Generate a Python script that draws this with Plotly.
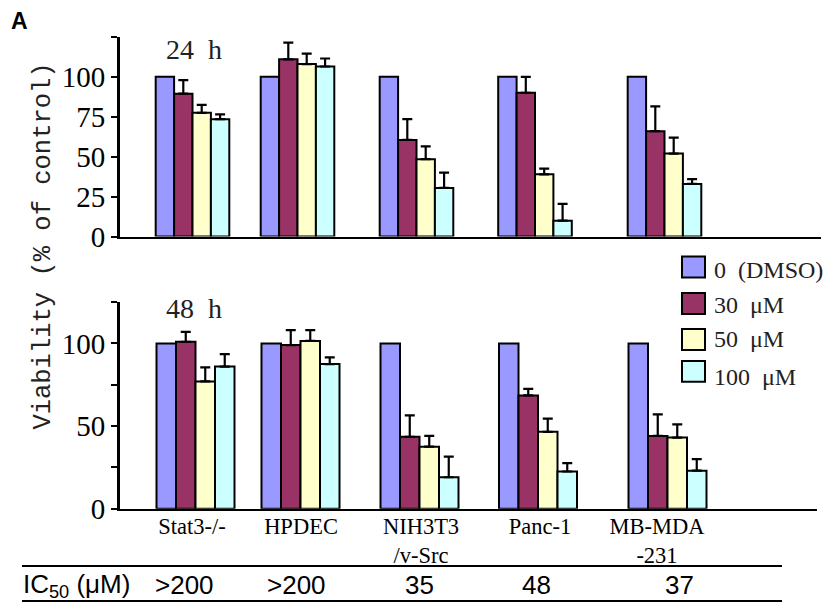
import plotly.graph_objects as go

# ---------------- data ----------------
cell_labels = ["Stat3-/-", "HPDEC", "NIH3T3<br>/v-Src", "Panc-1", "MB-MDA<br>-231"]
series_names = ["0  (DMSO)", "30  μM", "50  μM", "100  μM"]
time_labels = ["24  h", "48  h"]
ic50_values = [">200", ">200", "35", "48", "37"]
y_ticks_24 = [0, 25, 50, 75, 100]
y_minor_24 = [125]
y_ticks_48 = [0, 50, 100]
y_minor_48 = [25, 75, 125]

# 24 h viability (% of control)
v24_dmso = [100, 100, 100, 100, 100]
v24_30 = [89.5, 111, 60.5, 90, 66]
v24_50 = [77.5, 108, 48.5, 39, 52]
v24_100 = [73.5, 106.5, 30.5, 10, 33]
e24_dmso = [0, 0, 0, 0, 0]
e24_30 = [8.5, 10.5, 13, 10, 15.5]
e24_50 = [5, 6.5, 8, 3.5, 10]
e24_100 = [3, 5, 9.5, 10.5, 3]

# 48 h viability (% of control)
v48_dmso = [100, 100, 100, 100, 100]
v48_30 = [101, 99, 43.5, 68.5, 44]
v48_50 = [77, 101.5, 37.5, 46.5, 43]
v48_100 = [86, 87.5, 19, 22.5, 23]
e48_dmso = [0, 0, 0, 0, 0]
e48_30 = [6, 9, 13, 4, 13]
e48_50 = [8.5, 6.5, 6.5, 8, 8]
e48_100 = [7.5, 4, 12.5, 5, 7]

# ---------------- layout constants ----------------
W, H = 831, 608          # target picture size (positions below are planned in this frame)
LAYOUT_H = 623           # page height used by the viewer (picture is fitted to 608)
colors = ["#9999FF", "#993366", "#FFFFCC", "#CCFFFF"]
group_pos = [72.5, 177.5, 296.5, 415, 544.5]      # group centres (x-axis units)
label_pos = [69, 178, 298, 417, 534]             # tick-label centres on bottom axis
ic50_px = [184.5, 296.5, 419, 536, 679]

def px(x):
    return x / W

def py(y):
    return 1 - y / H

fig = go.Figure()

panels = [
    ("x", "y", [v24_dmso, v24_30, v24_50, v24_100], [e24_dmso, e24_30, e24_50, e24_100], 18.4),
    ("x2", "y2", [v48_dmso, v48_30, v48_50, v48_100], [e48_dmso, e48_30, e48_50, e48_100], 19.5),
]
for xa, ya, vals, errs, bw in panels:
    for i in range(4):
        fig.add_trace(go.Bar(
            x=group_pos, y=vals[i], name=series_names[i],
            width=bw, offset=-2 * bw + i * bw,
            marker=dict(color=colors[i], line=dict(color="black", width=2)),
            error_y=dict(type="data", symmetric=False, array=errs[i],
                         arrayminus=[0] * len(errs[i]), color="black",
                         thickness=2.2, width=5, visible=(i > 0)),
            xaxis=xa, yaxis=ya, showlegend=False, hoverinfo="skip",
        ))

tick_font = dict(family="Liberation Serif", size=29, color="black")
common_y = dict(range=[0, 125], tickmode="array",
                ticks="outside", ticklen=6, tickwidth=2, tickcolor="black",
                showline=True, linewidth=3, linecolor="black",
                showgrid=False, zeroline=False, tickfont=tick_font)
minor_style = dict(ticks="outside", ticklen=6, tickwidth=2, tickcolor="black",
                   showgrid=False, tickmode="array")

fig.update_layout(
    width=W, height=LAYOUT_H, autosize=False,
    margin=dict(l=0, r=0, t=0, b=0),
    paper_bgcolor="white", plot_bgcolor="white",
    barmode="overlay",
    xaxis=dict(domain=[px(120), px(821)], range=[0, 701], anchor="y",
               showline=True, linewidth=2, linecolor="black",
               showticklabels=False, ticks="", showgrid=False, zeroline=False),
    yaxis=dict(domain=[py(237), py(37)], anchor="x", tickvals=y_ticks_24,
               minor=dict(tickvals=y_minor_24, **minor_style), **common_y),
    xaxis2=dict(domain=[px(120), px(817)], range=[-3, 694], anchor="y2",
                showline=True, linewidth=2, linecolor="black",
                tickmode="array", tickvals=label_pos, ticktext=cell_labels,
                ticks="", showgrid=False, zeroline=False, ticklabelstandoff=-4,
                tickfont=dict(family="Liberation Serif", size=22.5, color="black")),
    yaxis2=dict(domain=[py(509.5), py(302.6)], anchor="x2", tickvals=y_ticks_48,
                minor=dict(tickvals=y_minor_48, **minor_style), **common_y),
)

ann = []
# time labels
for t, yc in zip(time_labels, [50, 309]):
    ann.append(dict(x=px(194), y=py(yc), xref="paper", yref="paper", text=t, showarrow=False,
                    xanchor="center", yanchor="middle",
                    font=dict(family="Liberation Serif", size=28, color="#222")))
# y title
ann.append(dict(x=px(44), y=py(247), xref="paper", yref="paper",
                text="Viability (% of control)", textangle=-90, showarrow=False,
                xanchor="center", yanchor="middle",
                font=dict(family="Liberation Mono", size=25.5, color="#222")))
# panel letter
ann.append(dict(x=px(9), y=py(21), xref="paper", yref="paper", text="<b>A</b>",
                showarrow=False, xanchor="left", yanchor="middle",
                font=dict(family="Liberation Sans", size=23, color="black")))

shapes = []
# manual legend
box_cy = [267.5, 304, 340, 372]
text_cy = [270, 306, 340, 378]
for i in range(4):
    shapes.append(dict(type="rect", xref="paper", yref="paper",
                       x0=px(682), x1=px(705), y0=py(box_cy[i] + 10.5), y1=py(box_cy[i] - 10.5),
                       fillcolor=colors[i], line=dict(color="black", width=2)))
    ann.append(dict(x=px(712), y=py(text_cy[i]), xref="paper", yref="paper",
                    text=series_names[i], showarrow=False, xanchor="left", yanchor="middle",
                    font=dict(family="Liberation Serif", size=24, color="#222")))

# IC50 table
for yl in [567, 602]:
    shapes.append(dict(type="line", xref="paper", yref="paper",
                       x0=px(22), x1=px(782), y0=py(yl), y1=py(yl),
                       line=dict(color="black", width=2)))
ann.append(dict(x=px(21), y=py(586), xref="paper", yref="paper",
                text="IC<sub>50</sub> (μM)", showarrow=False, xanchor="left", yanchor="middle",
                font=dict(family="Liberation Sans", size=26, color="black")))
for xv, t in zip(ic50_px, ic50_values):
    ann.append(dict(x=px(xv), y=py(586), xref="paper", yref="paper", text=t,
                    showarrow=False, xanchor="center", yanchor="middle",
                    font=dict(family="Liberation Sans", size=26, color="black")))

fig.update_layout(annotations=ann, shapes=shapes)

post = (
    "var d=document.documentElement,b=document.body;"
    "d.style.margin='0';b.style.margin='0';d.style.padding='0';b.style.padding='0';"
    "d.style.overflow='hidden';b.style.overflow='hidden';"
)
fig.write_html("out.html", config={"displayModeBar": False}, post_script=post)
